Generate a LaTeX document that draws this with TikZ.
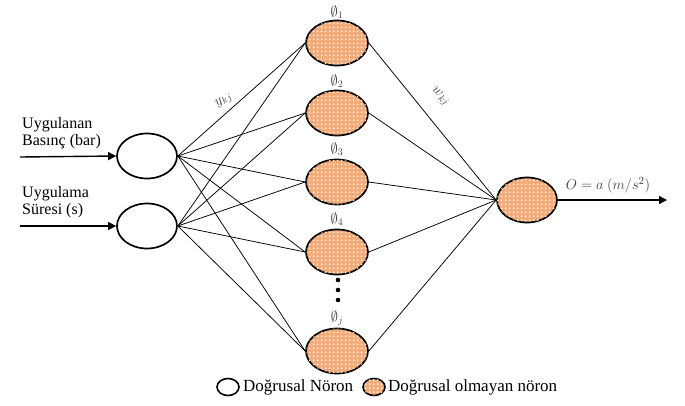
\documentclass[tikz,border=0pt]{standalone}
\usepackage{fontspec}
\setmainfont{Liberation Serif}
\newfontfamily\tms{Liberation Serif}
\usetikzlibrary{patterns,arrows.meta,shapes.geometric}
\pgfdeclarepatternformonly{wdots}{\pgfqpoint{0pt}{0pt}}{\pgfqpoint{4pt}{4pt}}{\pgfqpoint{4pt}{4pt}}{\pgfpathrectangle{\pgfqpoint{1pt}{1pt}}{\pgfqpoint{2pt}{2pt}}\pgfusepath{fill}}
\definecolor{neuorange}{RGB}{242,170,118}
\tikzset{
  linneu/.style={ellipse,draw,line width=1.7pt,minimum width=60pt,minimum height=45pt,inner sep=0pt,fill=white},
  nonneu/.style={ellipse,draw,line width=1.7pt,minimum width=62pt,minimum height=45pt,inner sep=0pt,fill=neuorange,postaction={pattern=wdots,pattern color=white!92!orange}},
  conn/.style={line width=0.75pt},
  inarrow/.style={line width=1.4pt,-{Triangle[length=8pt,width=8pt]}},
  lbl/.style={font=\tms\fontsize{16}{17}\selectfont,align=left,anchor=west,inner sep=0pt},
  leglbl/.style={font=\tms\fontsize{17}{18}\selectfont,anchor=west,inner sep=0pt},
  phi/.style={font=\fontsize{14}{16}\selectfont,text=black!75},
  wlbl/.style={font=\fontsize{14}{16}\selectfont,text=black!75,inner sep=0pt},
  legsmall/.style={ellipse,draw,line width=1.6pt,minimum width=22pt,minimum height=17pt,inner sep=0pt},
}
\begin{document}
\begin{tikzpicture}[x=1pt,y=-1pt]
\useasboundingbox (0,0) rectangle (685,405);
% input neurons
\node[linneu] (i1) at (147,156) {};
\node[linneu] (i2) at (147,226) {};
% hidden neurons
\node[nonneu] (h1) at (337,43) {};
\node[nonneu] (h2) at (337,113) {};
\node[nonneu] (h3) at (337,182) {};
\node[nonneu] (h4) at (337,252) {};
\node[nonneu] (hj) at (337,351) {};
% output neuron
\node[nonneu,minimum width=60pt] (o) at (527,200) {};
% hidden labels
\node[phi] (p1) at (337,12) {$\emptyset_1$};
\node[phi] (p2) at (337,81) {$\emptyset_2$};
\node[phi] (p3) at (337,149) {$\emptyset_3$};
\node[phi] (p4) at (337,219) {$\emptyset_4$};
\node[phi] (pj) at (337,318) {$\emptyset_j$};
% dots
\foreach \yy in {280,290,300} \fill (338,\yy) circle (2.3pt);
% inputs
\coordinate (a1) at (20,157);
\coordinate (a2) at (20,226);
\draw[inarrow] (a1) -- (i1.west);
\draw[inarrow] (a2) -- (i2.west);
\node[lbl] (t1) at (22,133) {Uygulanan\\Basınç (bar)};
\node[lbl] (t2) at (22,202) {Uygulama\\Süresi (s)};
% connections input -> hidden
\foreach \i in {i1,i2}
  \foreach \h in {h1,h2,h3,h4,hj}
    \draw[conn] (\i.east) -- (\h.west);
% hidden -> output
\foreach \h in {h1,h2,h3,h4,hj}
  \draw[conn] (\h.east) -- (o.west);
% output
\coordinate (oe) at (667,200);
\draw[inarrow,line width=1.2pt] (o.east) -- (oe);
\node[wlbl,font=\fontsize{15}{17}\selectfont] (ol) at (608,185) {$O=a\ (m/s^2)$};
% weight labels
\node[wlbl,rotate=33] (y) at (224,101) {$y_{kj}$};
\node[wlbl,rotate=-42] (w) at (440,97) {$w_{kj}$};
% legend
\node[legsmall,fill=white] (l1) at (228,387) {};
\node[leglbl] (l1t) at (243,387) {Doğrusal Nöron};
\node[legsmall,fill=neuorange,postaction={pattern=wdots,pattern color=white!92!orange}] (l2) at (374,387) {};
\node[leglbl] (l2t) at (388,387) {Doğrusal olmayan nöron};
\end{tikzpicture}
\end{document}
